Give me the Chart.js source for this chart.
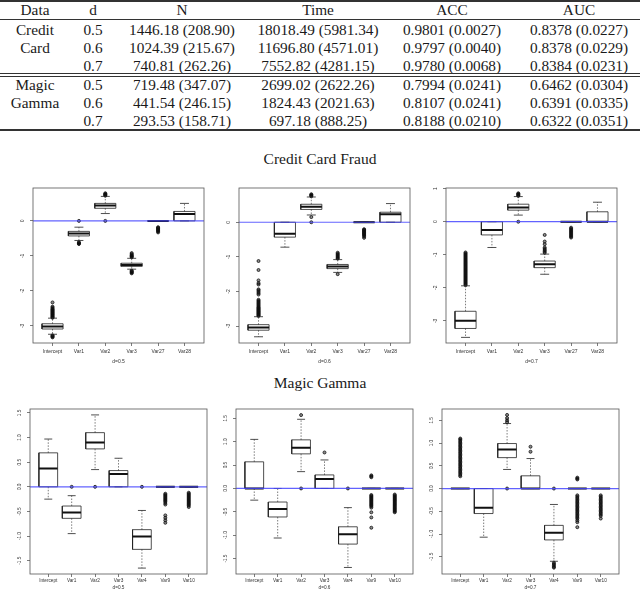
<!DOCTYPE html>
<html>
<head>
<meta charset="utf-8">
<script src="https://cdn.jsdelivr.net/npm/chart.js@4.4.1/dist/chart.umd.min.js"></script>
<style>
  body { margin: 0; width: 640px; height: 589px; overflow: hidden; background: #fff; position: relative; font-family: "Liberation Serif", serif; color: #1a1a1a; }
  .cell { position: absolute; font-size: 15.3px; line-height: 1; white-space: nowrap; transform: translate(-50%, -50%); }
  .rule { position: absolute; left: 0; width: 640px; background: #333; }
  .title { position: absolute; font-size: 15.5px; line-height: 1; white-space: nowrap; transform: translate(-50%, -50%); }
  canvas { position: absolute; }
</style>
</head>
<body>
<script>
// ---- table ----
const tableHead = ['Data', 'd', 'N', 'Time', 'ACC', 'AUC'];
const dataNames = ['Credit', 'Card', '', 'Magic', 'Gamma', ''];
const dValues = ['0.5', '0.6', '0.7', '0.5', '0.6', '0.7'];
const nValues = ['1446.18 (208.90)', '1024.39 (215.67)', '740.81 (262.26)', '719.48 (347.07)', '441.54 (246.15)', '293.53 (158.71)'];
const timeValues = ['18018.49 (5981.34)', '11696.80 (4571.01)', '7552.82 (4281.15)', '2699.02 (2622.26)', '1824.43 (2021.63)', '697.18 (888.25)'];
const accValues = ['0.9801 (0.0027)', '0.9797 (0.0040)', '0.9780 (0.0068)', '0.7994 (0.0241)', '0.8107 (0.0241)', '0.8188 (0.0210)'];
const aucValues = ['0.8378 (0.0227)', '0.8378 (0.0229)', '0.8384 (0.0231)', '0.6462 (0.0304)', '0.6391 (0.0335)', '0.6322 (0.0351)'];

// ---- boxplots: rows are [lower whisker, q1, median, q3, upper whisker] ----
const ccVars = ['Intercept', 'Var1', 'Var2', 'Var3', 'Var27', 'Var28'];
const mgVars = ['Intercept', 'Var1', 'Var2', 'Var3', 'Var4', 'Var9', 'Var10'];

const cc05Box = [[-3.24, -3.09, -3.02, -2.94, -2.78], [-0.56, -0.43, -0.36, -0.30, -0.18], [0.21, 0.36, 0.44, 0.50, 0.70],
  [-1.38, -1.30, -1.26, -1.21, -1.07], [0, 0, 0, 0, 0], [0, 0, 0.20, 0.27, 0.50]];
const cc05Out = [
  [-2.77, -2.75, -2.73, -2.71, -2.69, -2.67, -2.65, -2.63, -2.61, -2.59, -2.57, -2.55, -2.53, -2.51, -2.48, -2.45, -2.33, -3.27, -3.29, -3.31, -3.33],
  [0, -0.61, -0.63, -0.65, -0.66],
  [0, 0.72, 0.74, 0.75, 0.77, 0.79],
  [-0.92, -0.95, -0.98, -1.0, -1.02, -1.04, -1.42, -1.44, -1.46, -1.48, -1.5],
  [-0.18, -0.2, -0.22, -0.24, -0.26, -0.28, -0.3, -0.33],
  []];
const cc05Lim = [-3.49, 0.94];

const cc06Box = [[-3.31, -3.12, -3.04, -2.96, -2.73], [-0.72, -0.43, -0.33, 0, 0], [0.21, 0.37, 0.45, 0.52, 0.73],
  [-1.45, -1.34, -1.28, -1.22, -1.08], [0, 0, 0, 0, 0], [0, 0, 0.23, 0.29, 0.54]];
const cc06Out = [
  [-2.71, -2.69, -2.67, -2.65, -2.63, -2.61, -2.59, -2.57, -2.55, -2.53, -2.51, -2.49, -2.47, -2.45, -2.42, -2.39, -2.36, -2.33, -2.3, -2.27, -2.24,
   -2.09, -2.05, -2.01, -1.97, -1.94, -1.8, -1.76, -1.68, -1.38, -1.12],
  [],
  [0, 0.15, 0.75, 0.77, 0.79, 0.81],
  [-0.88, -0.91, -0.94, -0.97, -1.0, -1.03, -1.05, -1.5],
  [-0.2, -0.22, -0.24, -0.26, -0.28, -0.3, -0.32, -0.34, -0.36, -0.38, -0.41, -0.45],
  []];
const cc06Lim = [-3.49, 0.99];

const cc07Box = [[-3.5, -3.23, -3.0, -2.71, -1.94], [-0.78, -0.40, -0.25, 0, 0], [0.2, 0.35, 0.43, 0.53, 0.76],
  [-1.59, -1.39, -1.29, -1.19, -0.98], [0, 0, 0, 0, 0], [0, 0, 0, 0.30, 0.59]];
const cc07Out = [
  [-1.92, -1.89, -1.86, -1.83, -1.8, -1.77, -1.74, -1.71, -1.68, -1.65, -1.62, -1.59, -1.56, -1.53, -1.5, -1.47, -1.44, -1.41, -1.38,
   -1.35, -1.32, -1.29, -1.26, -1.23, -1.2, -1.17, -1.14, -1.11, -1.08, -1.05, -1.02, -0.99, -0.96, -0.93],
  [],
  [0, 0.78, 0.8, 0.82, 0.84, 0.86],
  [-0.4, -0.6, -0.68, -0.78, -0.82, -0.86, -0.9, -0.94],
  [-0.18, -0.21, -0.24, -0.27, -0.3, -0.33, -0.36, -0.39, -0.42, -0.45, -0.48],
  []];
const cc07Lim = [-3.67, 1.02];

const mg05Box = [[-0.25, 0, 0.37, 0.69, 0.97], [-0.95, -0.64, -0.52, -0.39, -0.18], [0.35, 0.77, 0.90, 1.10, 1.46], [0, 0, 0.26, 0.33, 0.58],
  [-1.65, -1.27, -1.01, -0.87, -0.48], [0, 0, 0, 0, 0], [0, 0, 0, 0, 0]];
const mg05Out = [
  [], [0], [0], [], [0],
  [-0.14, -0.16, -0.18, -0.2, -0.22, -0.24, -0.26, -0.28, -0.3, -0.33, -0.36, -0.58, -0.63, -0.68, -0.73],
  [-0.12, -0.14, -0.16, -0.18, -0.2, -0.22, -0.24, -0.26, -0.28, -0.3, -0.32, -0.34, -0.36, -0.38, -0.41]];
const mg05Lim = [-1.77, 1.58];

const mg06Box = [[-0.25, 0, 0, 0.57, 1.05], [-1.06, -0.61, -0.44, -0.29, 0], [0.36, 0.74, 0.87, 1.04, 1.48], [0, 0, 0.2, 0.29, 0.61],
  [-1.69, -1.19, -0.98, -0.82, -0.41], [0, 0, 0, 0, 0], [0, 0, 0, 0, 0]];
const mg06Out = [
  [], [], [0, 1.57], [0.77], [0],
  [0.24, 0.26, 0.28, -0.14, -0.16, -0.18, -0.2, -0.22, -0.24, -0.26, -0.28, -0.3, -0.32, -0.34, -0.36, -0.38, -0.41, -0.51, -0.62, -0.84],
  [-0.13, -0.15, -0.17, -0.19, -0.21, -0.23, -0.25, -0.27, -0.29, -0.31, -0.33, -0.35, -0.37, -0.39, -0.41, -0.43, -0.45, -0.47, -0.49, -0.51]];
const mg06Lim = [-1.83, 1.70];

const mg07Box = [[0, 0, 0, 0, 0], [-1.07, -0.55, -0.42, 0, 0], [0.42, 0.68, 0.86, 0.99, 1.43], [0, 0, 0, 0.28, 0.66],
  [-1.6, -1.13, -0.97, -0.81, -0.35], [0, 0, 0, 0, 0], [0, 0, 0, 0, 0]];
const mg07Out = [
  [0.27, 0.3, 0.33, 0.36, 0.39, 0.42, 0.45, 0.48, 0.51, 0.54, 0.57, 0.6, 0.63, 0.66, 0.69, 0.72, 0.75, 0.78, 0.81, 0.84, 0.87, 0.9, 0.93,
   0.96, 0.99, 1.02, 1.05, 1.08, 1.1],
  [],
  [0, 1.46, 1.5, 1.55, 1.62],
  [0.81, 0.92],
  [0, -1.63, -1.66, -1.69, -1.72, -1.74],
  [0.2, 0.22, 0.24, -0.15, -0.18, -0.21, -0.24, -0.27, -0.3, -0.33, -0.36, -0.39, -0.42, -0.45, -0.48, -0.51, -0.54, -0.57, -0.6, -0.63,
   -0.66, -0.7, -0.74, -0.85],
  [-0.15, -0.18, -0.21, -0.24, -0.27, -0.3, -0.33, -0.36, -0.39, -0.42, -0.45, -0.48, -0.51, -0.54, -0.57, -0.6, -0.66]];
const mg07Lim = [-1.88, 1.75];

const ccTicks = [-3, -2, -1, 0];
const ccTickLabels = ['-3', '-2', '-1', '0'];
const cc07Ticks = [-3, -2, -1, 0, 1];
const cc07TickLabels = ['-3', '-2', '-1', '0', '1'];
const mgTicks = [-1.5, -1, -0.5, 0, 0.5, 1, 1.5];
const mgTickLabels = ['-1.5', '-1.0', '-0.5', '0.0', '0.5', '1.0', '1.5'];

// ---- page: table ----
const colX = [35, 93, 182, 318, 452, 579];
const rowY = [29.5, 47.5, 65.5, 84.5, 102.5, 120.5];

function put(cls, text, x, y) {
  const d = document.createElement('div');
  d.className = cls;
  d.textContent = text;
  d.style.left = x + 'px';
  d.style.top = y + 'px';
  document.body.appendChild(d);
}
function rule(y, h) {
  const d = document.createElement('div');
  d.className = 'rule';
  d.style.top = y + 'px';
  d.style.height = h + 'px';
  document.body.appendChild(d);
}

tableHead.forEach((t, c) => put('cell', t, colX[c], 10));
[dataNames, dValues, nValues, timeValues, accValues, aucValues].forEach((col, c) => {
  col.forEach((t, r) => { if (t) put('cell', t, colX[c], rowY[r]); });
});
rule(0, 1.5);
rule(18.5, 1);
rule(73, 1);
rule(75.5, 1);
rule(129, 1.5);

put('title', 'Credit Card Fraud', 320, 159);
put('title', 'Magic Gamma', 320, 383);

// ---- boxplot panels ----
const rFrame = {
  id: 'rFrame',
  afterDatasetsDraw(chart, args, opts) {
    const { ctx, chartArea: a } = chart;
    const y = chart.scales.y;
    ctx.save();
    ctx.strokeStyle = '#555';
    ctx.lineWidth = 0.8;
    ctx.strokeRect(a.left, a.top, a.right - a.left, a.bottom - a.top);
    ctx.fillStyle = '#333';
    ctx.font = opts.size + 'px "Liberation Sans"';
    ctx.textAlign = 'center';
    ctx.textBaseline = 'middle';
    y.ticks.forEach((t, i) => {
      ctx.save();
      ctx.translate(a.left - opts.gap, y.getPixelForValue(t.value));
      ctx.rotate(-Math.PI / 2);
      ctx.fillText(opts.labels[i], 0, 0);
      ctx.restore();
    });
    ctx.restore();
  }
};

function boxDatasets(box, out, xmin, xmax) {
  const w = 0.4, c = 0.17;
  const frame = [], med = [], whisk = [], caps = [], pts = [];
  box.forEach((b, i) => {
    const x = i + 1;
    const [lo, q1, m, q3, hi] = b;
    frame.push({ x: x - w, y: q1 }, { x: x + w, y: q1 }, { x: x + w, y: q3 }, { x: x - w, y: q3 }, { x: x - w, y: q1 }, { x, y: null });
    med.push({ x: x - w, y: m }, { x: x + w, y: m }, { x, y: null });
    whisk.push({ x, y: q3 }, { x, y: hi }, { x, y: null }, { x, y: q1 }, { x, y: lo }, { x, y: null });
    caps.push({ x: x - c, y: hi }, { x: x + c, y: hi }, { x, y: null }, { x: x - c, y: lo }, { x: x + c, y: lo }, { x, y: null });
    out[i].forEach(v => pts.push({ x, y: v }));
  });
  const line = { showLine: true, pointRadius: 0, spanGaps: false, fill: false };
  return [
    { ...line, data: [{ x: xmin, y: 0 }, { x: xmax, y: 0 }], borderColor: 'rgba(70,70,255,0.85)', borderWidth: 1.2 },
    { ...line, data: med, borderColor: '#111', borderWidth: 2 },
    { ...line, data: frame, borderColor: '#222', borderWidth: 0.8 },
    { ...line, data: caps, borderColor: '#222', borderWidth: 0.8 },
    { ...line, data: whisk, borderColor: '#444', borderWidth: 0.7, borderDash: [1.5, 1.5] },
    { data: pts, pointRadius: 1.5, pointBorderWidth: 0.8, pointBorderColor: '#111', pointBackgroundColor: 'rgba(0,0,0,0.45)', showLine: false }
  ];
}

function panel(p) {
  const g = p.g;
  const n = p.cats.length;
  const xmin = 0.5 - 0.04 * n, xmax = n + 0.5 + 0.04 * n;
  const cv = document.createElement('canvas');
  cv.width = g.w; cv.height = g.h;
  cv.style.left = g.x + 'px'; cv.style.top = g.y + 'px';
  cv.style.width = g.w + 'px'; cv.style.height = g.h + 'px';
  document.body.appendChild(cv);
  new Chart(cv, {
    type: 'scatter',
    data: { datasets: boxDatasets(p.box, p.out, xmin, xmax) },
    plugins: [rFrame],
    options: {
      responsive: false,
      animation: false,
      events: [],
      layout: { padding: { left: 0, right: g.padR, top: g.padT, bottom: 0 } },
      plugins: {
        legend: { display: false },
        tooltip: { enabled: false },
        rFrame: { labels: p.tickLabels, size: g.fs, gap: 10 }
      },
      scales: {
        x: {
          type: 'linear', min: xmin, max: xmax, bounds: 'data',
          afterBuildTicks: s => { s.ticks = p.cats.map((c, i) => ({ value: i + 1 })); },
          afterFit: s => { s.height = g.xh; },
          ticks: { callback: (v, i) => p.cats[i], autoSkip: false, maxRotation: 0, minRotation: 0,
                   font: { size: g.fs, family: 'Liberation Sans' }, color: '#333', padding: g.lpad },
          grid: { drawOnChartArea: false, tickLength: 3, color: '#444', lineWidth: 0.7 },
          border: { display: false },
          title: { display: true, text: p.label, color: '#333', font: { size: g.fs, family: 'Liberation Sans' },
                   padding: { top: 0, bottom: g.tpad } }
        },
        y: {
          type: 'linear', min: p.lim[0], max: p.lim[1], bounds: 'data',
          afterBuildTicks: s => { s.ticks = p.ticks.map(v => ({ value: v })); },
          afterFit: s => { s.width = g.left; },
          ticks: { display: false },
          grid: { drawOnChartArea: false, tickLength: 3, color: '#444', lineWidth: 0.7 },
          border: { display: false }
        }
      }
    }
  });
}

const topRow = { y: 175, h: 195, padT: 13, xh: 27, lpad: 2.5, tpad: 5.5, fs: 5 };
const botRow = { y: 395, h: 200, padT: 14, xh: 21, lpad: 0.5, tpad: 4.5, fs: 4.7 };

panel({ cats: ccVars, box: cc05Box, out: cc05Out, lim: cc05Lim, ticks: ccTicks, tickLabels: ccTickLabels, label: 'd=0.5',
        g: { ...topRow, x: 0, w: 212, left: 33, padR: 8 } });
panel({ cats: ccVars, box: cc06Box, out: cc06Out, lim: cc06Lim, ticks: ccTicks, tickLabels: ccTickLabels, label: 'd=0.6',
        g: { ...topRow, x: 212, w: 213, left: 27, padR: 15 } });
panel({ cats: ccVars, box: cc07Box, out: cc07Out, lim: cc07Lim, ticks: cc07Ticks, tickLabels: cc07TickLabels, label: 'd=0.7',
        g: { ...topRow, x: 425, w: 215, left: 21, padR: 23 } });
panel({ cats: mgVars, box: mg05Box, out: mg05Out, lim: mg05Lim, ticks: mgTicks, tickLabels: mgTickLabels, label: 'd=0.5',
        g: { ...botRow, x: 0, w: 212, left: 30, padR: 5 } });
panel({ cats: mgVars, box: mg06Box, out: mg06Out, lim: mg06Lim, ticks: mgTicks, tickLabels: mgTickLabels, label: 'd=0.6',
        g: { ...botRow, x: 212, w: 213, left: 24, padR: 12 } });
panel({ cats: mgVars, box: mg07Box, out: mg07Out, lim: mg07Lim, ticks: mgTicks, tickLabels: mgTickLabels, label: 'd=0.7',
        g: { ...botRow, x: 425, w: 215, left: 17, padR: 21 } });
</script>
</body>
</html>
